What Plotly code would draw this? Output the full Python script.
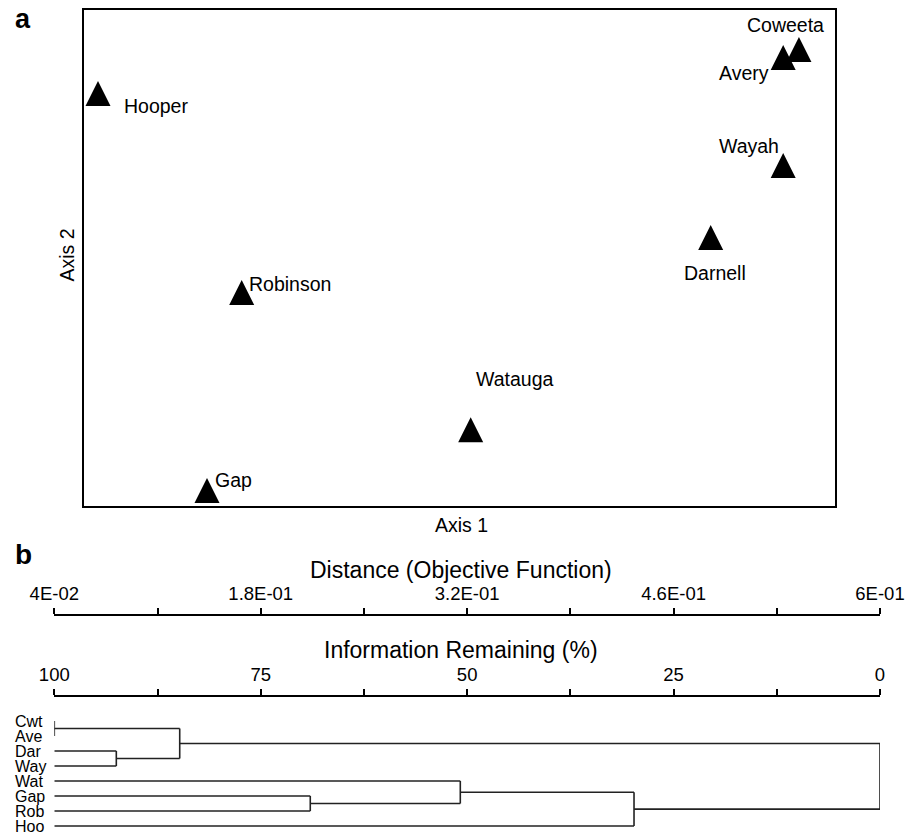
import plotly.graph_objects as go

# ---------------- data ----------------
sites = ["Hooper", "Coweeta", "Avery", "Wayah", "Darnell", "Robinson", "Watauga", "Gap"]
axis1_scores = [0.0186, 0.952, 0.931, 0.931, 0.8345, 0.210, 0.5149, 0.1638]
axis2_scores = [0.857, 0.9456, 0.9294, 0.7117, 0.5665, 0.4556, 0.1788, 0.0565]

leaves = ["Cwt", "Ave", "Dar", "Way", "Wat", "Gap", "Rob", "Hoo"]
# merges: (child_a, child_b, information remaining %) ; new node ids start at 8
merge_a = [0, 2, 8, 5, 4, 12, 10]
merge_b = [1, 3, 9, 6, 11, 7, 13]
merge_info = [100.0, 92.49, 84.81, 69.0, 50.83, 29.79, 0.0]

dist_ticks = [0.04, 0.11, 0.18, 0.25, 0.32, 0.39, 0.46, 0.53, 0.60]
dist_labels = ["4E-02", "", "1.8E-01", "", "3.2E-01", "", "4.6E-01", "", "6E-01"]
info_ticks = [100, 87.5, 75, 62.5, 50, 37.5, 25, 12.5, 0]
info_labels = ["100", "", "75", "", "50", "", "25", "", "0"]

# label offsets in pixels (style only)
label_dx = [24.5, -54, -66.3, -65.7, -29, 5, 3.3, 6.3]
label_dy = [-25.5, 11.8, -27.5, 7.5, -47.5, -3.5, 38, -2.5]

# page body has an 8px margin: figure is sized so it ends at the window edge
OFF = 8
W, H = 905, 828
FONT = "Liberation Sans, Arial, Helvetica, sans-serif"


def fx(p):
    return (p - OFF) / W


def fy(p):
    return 1 - (p - OFF) / H


fig = go.Figure()

# ---------------- panel a : ordination ----------------
fig.add_trace(go.Scatter(
    x=axis1_scores, y=axis2_scores, mode="markers",
    marker=dict(symbol="arrow-up", size=25, color="black", line=dict(width=0)),
    cliponaxis=False, hoverinfo="text", text=sites, xaxis="x", yaxis="y"))

annotations = []
for s, xv, yv, dx, dy in zip(sites, axis1_scores, axis2_scores, label_dx, label_dy):
    annotations.append(dict(x=xv, y=yv, xref="x", yref="y", text=s, showarrow=False,
                            xanchor="left", yanchor="middle", xshift=dx, yshift=dy,
                            font=dict(family=FONT, size=19.5, color="black")))

# ---------------- panel b : dendrogram ----------------
node_x = [100.0] * len(leaves)
node_y = list(range(len(leaves)))
dx_list, dy_list = [], []
for a, b, h in zip(merge_a, merge_b, merge_info):
    for c in (a, b):
        dx_list += [node_x[c], h, None]
        dy_list += [node_y[c], node_y[c], None]
    dx_list += [h, h, None]
    dy_list += [node_y[a], node_y[b], None]
    node_x.append(h)
    node_y.append((node_y[a] + node_y[b]) / 2)

fig.add_trace(go.Scatter(x=dx_list, y=dy_list, mode="lines",
                         line=dict(color="#222222", width=1.6),
                         cliponaxis=False, hoverinfo="skip", xaxis="x2", yaxis="y2"))

for i, name in enumerate(leaves):
    annotations.append(dict(x=fx(13), y=i, xref="paper", yref="y2", text=name,
                            showarrow=False, xanchor="left", yanchor="middle",
                            font=dict(family=FONT, size=16, color="black")))

# scale bar carriers (invisible)
fig.add_trace(go.Scatter(x=[dist_ticks[0], dist_ticks[-1]], y=[0, 0], mode="markers",
                         marker=dict(opacity=0), hoverinfo="skip", xaxis="x3", yaxis="y3"))
fig.add_trace(go.Scatter(x=[info_ticks[0], info_ticks[-1]], y=[0, 0], mode="markers",
                         marker=dict(opacity=0), hoverinfo="skip", xaxis="x4", yaxis="y4"))

# titles / letters
annotations += [
    dict(x=fx(461), y=fy(525), xref="paper", yref="paper", text="Axis 1", showarrow=False,
         xanchor="center", yanchor="middle", font=dict(family=FONT, size=19.5, color="black")),
    dict(x=fx(66), y=fy(255.5), xref="paper", yref="paper", text="Axis 2", showarrow=False,
         textangle=-90, xanchor="center", yanchor="middle",
         font=dict(family=FONT, size=19.5, color="black")),
    dict(x=fx(461), y=fy(569.5), xref="paper", yref="paper", text="Distance (Objective Function)",
         showarrow=False, xanchor="center", yanchor="middle",
         font=dict(family=FONT, size=23, color="black")),
    dict(x=fx(461), y=fy(649.5), xref="paper", yref="paper", text="Information Remaining (%)",
         showarrow=False, xanchor="center", yanchor="middle",
         font=dict(family=FONT, size=23, color="black")),
    dict(x=fx(13), y=fy(19), xref="paper", yref="paper", text="<b>a</b>", showarrow=False,
         xanchor="left", yanchor="middle", font=dict(family=FONT, size=27, color="black")),
    dict(x=fx(13), y=fy(554), xref="paper", yref="paper", text="<b>b</b>", showarrow=False,
         xanchor="left", yanchor="middle", font=dict(family=FONT, size=28, color="black")),
]

box_axis = dict(showline=True, mirror=True, linewidth=2.3, linecolor="black",
                showticklabels=False, ticks="", showgrid=False, zeroline=False,
                range=[0, 1], fixedrange=True, automargin=False)

scale_axis = dict(side="top", showline=True, linewidth=2.3, linecolor="black",
                  ticks="outside", ticklen=6, tickwidth=2, tickcolor="black",
                  showgrid=False, zeroline=False, automargin=False,
                  tickfont=dict(family=FONT, size=18.5, color="black"))

hidden_y = dict(visible=False, range=[0, 1], fixedrange=True, automargin=False)

fig.update_layout(
    width=W, height=H,
    margin=dict(l=0, r=0, t=0, b=0, pad=0),
    paper_bgcolor="white", plot_bgcolor="white",
    showlegend=False,
    font=dict(family=FONT, color="black"),
    xaxis=dict(domain=[fx(84), fx(835)], anchor="y", **box_axis),
    yaxis=dict(domain=[fy(506), fy(10)], anchor="x", **box_axis),
    xaxis2=dict(domain=[fx(54.3), fx(880)], anchor="y2", range=[100, 0], visible=False,
                automargin=False),
    yaxis2=dict(domain=[fy(833.5), fy(713.5)], anchor="x2", range=[7.5, -0.5], visible=False,
                automargin=False),
    xaxis3=dict(domain=[fx(54.3), fx(880)], anchor="y3", range=[dist_ticks[0], dist_ticks[-1]],
                tickmode="array", tickvals=dist_ticks, ticktext=dist_labels, **scale_axis),
    yaxis3=dict(domain=[0.2, fy(616)], anchor="x3", **hidden_y),
    xaxis4=dict(domain=[fx(54.3), fx(880)], anchor="y4", range=[info_ticks[0], info_ticks[-1]],
                tickmode="array", tickvals=info_ticks, ticktext=info_labels, **scale_axis),
    yaxis4=dict(domain=[0.155, fy(697)], anchor="x4", **hidden_y),
    annotations=annotations,
)

fig.write_html("out.html")
